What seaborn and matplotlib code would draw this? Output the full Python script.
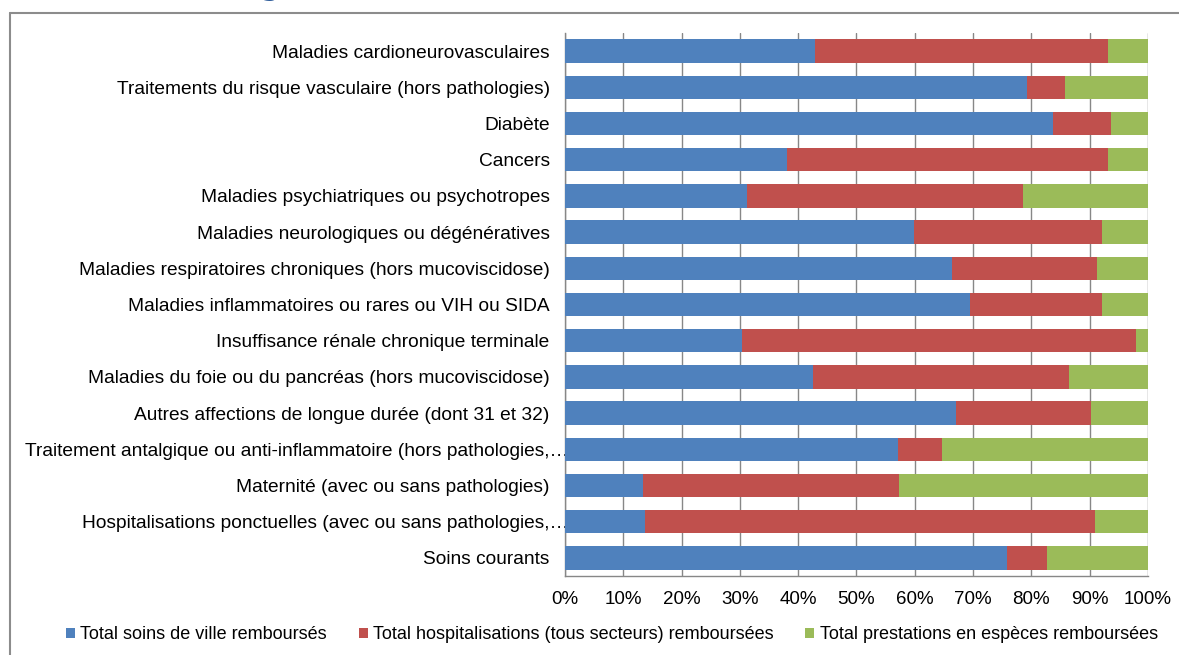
import pandas as pd
import matplotlib
matplotlib.use("Agg")
import matplotlib.pyplot as plt
import matplotlib.transforms as mtransforms
from matplotlib.lines import Line2D
from matplotlib.patches import Patch
from matplotlib.ticker import PercentFormatter, FixedLocator
import seaborn as sns

# categories, top to bottom
categories = [
    "Maladies cardioneurovasculaires",
    "Traitements du risque vasculaire (hors pathologies)",
    "Diabète",
    "Cancers",
    "Maladies psychiatriques ou psychotropes",
    "Maladies neurologiques ou dégénératives",
    "Maladies respiratoires chroniques (hors mucoviscidose)",
    "Maladies inflammatoires ou rares ou VIH ou SIDA",
    "Insuffisance rénale chronique terminale",
    "Maladies du foie ou du pancréas (hors mucoviscidose)",
    "Autres affections de longue durée (dont 31 et 32)",
    "Traitement antalgique ou anti-inflammatoire (hors pathologies,…",
    "Maternité (avec ou sans pathologies)",
    "Hospitalisations ponctuelles (avec ou sans pathologies,…",
    "Soins courants",
]

# shares in %
soins_ville = [42.9, 79.3, 83.7, 38.1, 31.3, 59.9, 66.4, 69.4, 30.3, 42.5, 67.0, 57.1, 13.3, 13.8, 75.8]
hospitalisations = [50.2, 6.4, 9.9, 55.1, 47.3, 32.2, 24.8, 22.7, 67.7, 44.0, 23.3, 7.5, 44.0, 77.1, 6.8]
prestations = [6.9, 14.3, 6.4, 6.8, 21.4, 7.9, 8.8, 7.9, 2.0, 13.5, 9.7, 35.4, 42.7, 9.1, 17.4]

series_names = [
    "Total soins de ville remboursés",
    "Total hospitalisations (tous secteurs) remboursées",
    "Total prestations en espèces remboursées",
]
colors = ["#4F81BD", "#C0504D", "#9BBB59"]

df = pd.DataFrame({
    "categorie": categories,
    "ville": soins_ville,
    "hosp": hospitalisations,
    "especes": prestations,
})
# cumulative ends for stacking
df["end_ville"] = df["ville"]
df["end_hosp"] = df["ville"] + df["hosp"]
df["end_especes"] = df["end_hosp"] + df["especes"]

sns.set_style("white")
plt.rcParams["font.family"] = ["Liberation Sans", "DejaVu Sans"]

fig = plt.figure(figsize=(11.79, 6.55), dpi=100)
ax = fig.add_axes([0.4792, 0.1206, 0.4945, 0.829])

grid_col = "#878787"
# draw from the longest stack to the shortest so each layer shows
for col, c in zip(["end_especes", "end_hosp", "end_ville"], colors[::-1]):
    sns.barplot(data=df, x=col, y="categorie", order=categories, orient="h",
                color=c, width=0.65, saturation=1, ax=ax, linewidth=0, zorder=3)

ax.set_xlim(0, 100)
ax.set_ylim(len(categories) - 0.5, -0.5)
ax.set_xlabel("")
ax.set_ylabel("")
ax.xaxis.set_major_locator(FixedLocator(range(0, 101, 10)))
ax.xaxis.set_major_formatter(PercentFormatter(100, decimals=0))
ax.grid(axis="x", color=grid_col, linewidth=1, zorder=0)
ax.set_axisbelow(True)

ax.yaxis.set_minor_locator(FixedLocator([i - 0.5 for i in range(len(categories) + 1)]))
ax.tick_params(axis="y", which="major", length=0, pad=11, labelsize=13.8, labelcolor="black")
ax.tick_params(axis="y", which="minor", length=6, width=1, color=grid_col, direction="out")
ax.tick_params(axis="x", which="major", length=6, width=1, color=grid_col, direction="out",
               labelsize=13.5, labelcolor="black", pad=5)
ax.tick_params(left=False, which="major")

# truncated labels: the ellipsis spills past the label column, as in Excel
shift = mtransforms.ScaledTranslation(19 / 100, 0, fig.dpi_scale_trans)
for lbl in ax.get_yticklabels():
    if lbl.get_text().endswith("…"):
        lbl.set_transform(lbl.get_transform() + shift)

for s in ["top", "right"]:
    ax.spines[s].set_visible(False)
for s in ["left", "bottom"]:
    ax.spines[s].set_color(grid_col)
    ax.spines[s].set_linewidth(1)

handles = [Patch(facecolor=c, edgecolor="none") for c in colors]
fig.legend(handles, series_names, loc="center", bbox_to_anchor=(0.519, 0.031), ncol=3,
           frameon=False, fontsize=13, handlelength=0.5, handleheight=0.5,
           handletextpad=0.3, columnspacing=1.75, labelcolor="black")

# outer frame of the chart object
fig.add_artist(Line2D([10 / 1179, 1.0], [1 - 13 / 655, 1 - 13 / 655],
                      transform=fig.transFigure, color="#8C8C8C", linewidth=1.5))
fig.add_artist(Line2D([10 / 1179, 10 / 1179], [0.0, 1 - 13 / 655],
                      transform=fig.transFigure, color="#8C8C8C", linewidth=1.5))

# cut-off heading above the frame
fig.text(262 / 1179, 1.0 + 4 / 655, "g", fontsize=18, fontweight="bold", color="#2E5C9A",
         family="DejaVu Serif", ha="left", va="baseline")

fig.savefig("out.png", dpi=100)
